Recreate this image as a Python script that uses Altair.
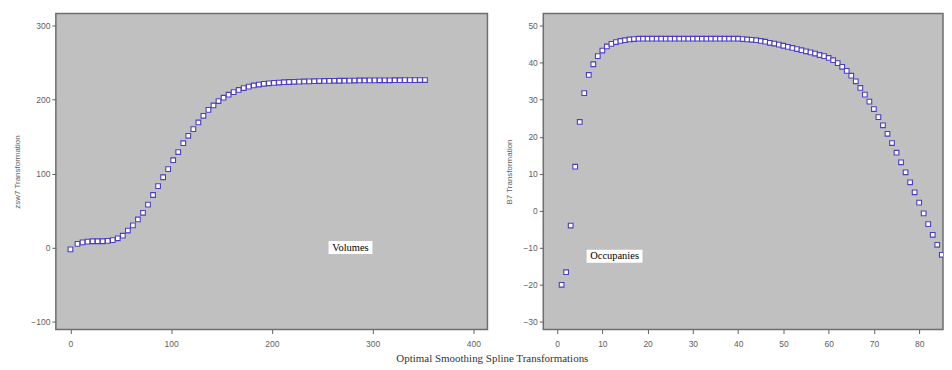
import altair as alt
import pandas as pd

# ---- Left panel: Volumes (zsw7 transformation) ----
vol_x = [0, 7, 12, 17, 22, 27, 32, 37, 42, 47, 52, 57, 62, 67, 72, 77, 82, 87, 92, 97,
         102, 107, 112, 117, 122, 127, 132, 137, 142, 147, 152, 157, 162, 167, 172, 177,
         182, 187, 192, 197, 202, 207, 212, 217, 222, 227, 232, 237, 242, 247, 252, 257,
         262, 267, 272, 277, 282, 287, 292, 297, 302, 307, 312, 317, 322, 327, 332, 337,
         342, 347, 352]
vol_y = [-2.5, 5, 7, 8, 8.5, 8.5, 8.5, 9, 10, 12.5, 16, 23, 30, 38, 47, 58, 71, 83, 95, 106,
         118, 129, 141, 151, 160, 169, 178, 186, 192, 198, 202.5, 206.5, 210, 213, 215.5, 217.5,
         219, 220.3, 221.3, 222, 222.5, 223, 223.4, 223.7, 224, 224.2, 224.4, 224.6, 224.8, 225, 225.1, 225.2,
         225.3, 225.4, 225.5, 225.6, 225.7, 225.8, 225.8, 225.9, 225.9, 226, 226, 226, 226.1, 226.1, 226.2, 226.2,
         226.2, 226.3, 226.3]

# ---- Right panel: Occupancies (B7 transformation) ----
occ_x = list(range(1, 88))
occ_y = [-20, -16.6, -4, 11.9, 24, 31.8, 36.7, 39.6, 41.8, 43.3,
         44.4, 45.1, 45.6, 45.9, 46.1, 46.3, 46.4, 46.5, 46.5, 46.5,
         46.5, 46.5, 46.5, 46.5, 46.5, 46.5, 46.5, 46.5, 46.5, 46.5,
         46.5, 46.5, 46.5, 46.5, 46.5, 46.5, 46.5, 46.5, 46.5, 46.5,
         46.4, 46.3, 46.2, 46.1, 45.9, 45.7, 45.4, 45.2, 44.9, 44.6,
         44.3, 44.0, 43.7, 43.4, 43.1, 42.8, 42.5, 42.1, 41.8, 41.3,
         40.7, 39.9, 38.9, 37.8, 36.5, 35.0, 33.2, 31.4, 29.5, 27.5,
         25.3, 23.1, 20.8, 18.3, 15.7, 13.1, 10.4, 7.7, 5.0, 2.2,
         -0.7, -3.6, -6.5, -9.2, -11.9, -14.6, -17.3]

vol_ticks_x = [0, 100, 200, 300, 400]
vol_ticks_y = [-100, 0, 100, 200, 300]
occ_ticks_x = [0, 10, 20, 30, 40, 50, 60, 70, 80]
occ_ticks_y = [-30, -20, -10, 0, 10, 20, 30, 40, 50]

vol_label = ["Volumes"]
vol_label_pos = [(278, 0)]
occ_label = ["Occupanies"]
occ_label_pos = [(12.7, -12.3)]

vol_df = pd.DataFrame({"x": vol_x, "y": vol_y})
occ_df = pd.DataFrame({"x": occ_x, "y": occ_y})
vol_lab_df = pd.DataFrame({"x": [p[0] for p in vol_label_pos], "y": [p[1] for p in vol_label_pos], "t": vol_label})
occ_lab_df = pd.DataFrame({"x": [p[0] for p in occ_label_pos], "y": [p[1] for p in occ_label_pos], "t": occ_label})

STROKE = "#4B3CC8"
AXIS_COL = "#606060"


def panel(df, lab_df, xdom, ydom, xticks, yticks, ytitle, w, h, box_half):
    xs = alt.Scale(domain=xdom, nice=False, zero=False)
    ys = alt.Scale(domain=ydom, nice=False, zero=False)
    xax = alt.Axis(values=xticks, title=None, grid=False, domain=False, tickSize=4,
                   tickColor=AXIS_COL, labelColor=AXIS_COL, labelFont="Liberation Sans",
                   labelFontSize=8.5, labelPadding=6, labelOverlap=False)
    yax = alt.Axis(values=yticks, title=ytitle, grid=False, domain=False, tickSize=4,
                   tickColor=AXIS_COL, labelColor=AXIS_COL, labelFont="Liberation Sans",
                   labelFontSize=8.5, labelPadding=2, labelOverlap=False,
                   titleFont="Liberation Sans",
                   titleFontSize=8, titleFontWeight="normal", titleColor=AXIS_COL,
                   titlePadding=9)
    X = alt.X("x:Q", scale=xs, axis=xax)
    Y = alt.Y("y:Q", scale=ys, axis=yax)
    pts = alt.Chart(df).mark_point(shape="square", filled=False, fill="white", fillOpacity=1,
                                   stroke=STROKE, strokeWidth=1.1, size=22, clip=True).encode(
        x=X, y=Y,
    )
    box = alt.Chart(lab_df).mark_rect(color="white", xOffset=-box_half, x2Offset=box_half,
                                      yOffset=-6.5, y2Offset=6.5).encode(
        x=X, x2="x:Q", y=Y, y2="y:Q",
    )
    txt = alt.Chart(lab_df).mark_text(font="Liberation Serif", fontSize=10.5, color="black",
                                      align="center", baseline="middle").encode(
        x=X, y=Y, text="t:N")
    return alt.layer(pts, box, txt).properties(width=w, height=h)


left = panel(vol_df, vol_lab_df, [-14.5, 414], [-110.8, 316.2], vol_ticks_x, vol_ticks_y,
             "zsw7 Transformation", 433, 317, 22)
right = panel(occ_df, occ_lab_df, [-3.05, 85.27], [-32.1, 53.3], occ_ticks_x, occ_ticks_y,
              "B7 Transformation", 401, 317, 28)

chart = alt.hconcat(left, right, spacing=16).properties(
    title=alt.TitleParams("Optimal Smoothing Spline Transformations", orient="bottom",
                          anchor="middle", font="Liberation Serif", fontSize=11,
                          fontWeight="normal", color="#333333", dx=14, offset=4),
    padding={"left": 5, "top": 4, "right": 0, "bottom": 0},
    background="white",
).configure_view(
    fill="#C0C0C0", stroke="#6E6E6E", strokeWidth=1.5
)

chart.save("out.html", embed_options={"renderer": "svg", "actions": False})
